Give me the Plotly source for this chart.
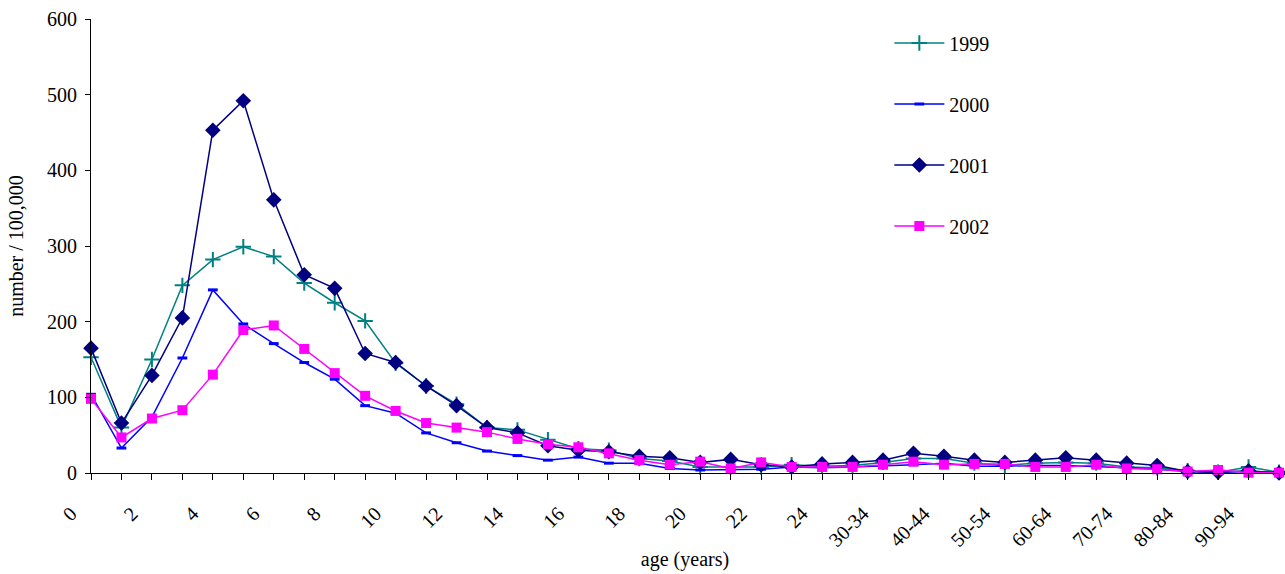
import plotly.graph_objects as go

ages = [str(i) for i in range(25)] + ["25-29", "30-34", "35-39", "40-44", "45-49", "50-54",
                                      "55-59", "60-64", "65-69", "70-74", "75-79", "80-84",
                                      "85-89", "90-94", "95+"]

y1999 = [153, 60, 150, 248, 282, 299, 286, 251, 225, 201, 145, 115, 91, 60, 57, 44, 32, 30, 19, 16,
         8, 8, 8, 11, 9, 10, 14, 19, 19, 13, 10, 13, 14, 13, 8, 7, 3, 1, 8, 1]
y2000 = [104, 33, 74, 152, 242, 197, 171, 146, 124, 89, 79, 53, 40, 29, 23, 17, 21, 13, 13, 6,
         4, 4, 5, 8, 7, 8, 9, 11, 13, 9, 9, 10, 10, 9, 7, 5, 2, 1, 2, 1]
y2001 = [165, 66, 129, 205, 453, 492, 361, 262, 244, 158, 146, 115, 89, 60, 53, 36, 30, 28, 22, 20,
         14, 18, 11, 8, 12, 14, 17, 26, 22, 17, 14, 17, 20, 17, 13, 10, 2, 1, 3, 0]
y2002 = [98, 47, 72, 83, 130, 189, 195, 164, 132, 102, 82, 66, 60, 54, 45, 38, 34, 26, 17, 11,
         15, 6, 14, 8, 8, 8, 11, 15, 11, 12, 12, 8, 8, 11, 6, 5, 2, 4, 0.5, 0.5]

tick_text = [a if i % 2 == 0 else "" for i, a in enumerate(ages)]

FONT = "Liberation Serif"
FS = 20

series = [
    ("1999", y1999, "#008080", dict(symbol="cross-thin", size=11, line=dict(width=2, color="#008080"))),
    ("2000", y2000, "#0000FF", dict(symbol="line-ew", size=7, line=dict(width=3, color="#0000FF"))),
    ("2001", y2001, "#000080", dict(symbol="diamond", size=12, color="#000080")),
    ("2002", y2002, "#FF00FF", dict(symbol="square", size=10, color="#FF00FF")),
]

fig = go.Figure()
for name, ys, col, mk in series:
    fig.add_trace(go.Scatter(
        x=ages, y=ys, name=name, mode="lines+markers",
        line=dict(color=col, width=1.5), marker=mk, cliponaxis=False,
        legendgroup=name,
    ))

fig.update_layout(
    width=1285, height=574,
    margin=dict(l=91, r=6, t=19, b=101),
    paper_bgcolor="white", plot_bgcolor="white",
    font=dict(family=FONT, size=FS, color="black"),
    showlegend=True,
    legend=dict(x=0.672, y=0.99, xanchor="left", yanchor="top",
                font=dict(family=FONT, size=FS), traceorder="grouped",
                tracegroupgap=32, bgcolor="rgba(0,0,0,0)", itemwidth=50),
    xaxis=dict(type="category", range=[0, 39], showline=True, linecolor="black", linewidth=1,
               ticks="outside", ticklen=6, tickcolor="black",
               tickmode="array", tickvals=ages, ticktext=tick_text, tickangle=-45,
               ticklabelshift=-20, ticklabelstandoff=14, automargin=False,
               tickfont=dict(family=FONT, size=FS), showgrid=False, zeroline=False,
               title=dict(text="age (years)", font=dict(family=FONT, size=FS), standoff=2)),
    yaxis=dict(range=[0, 600], dtick=100, showline=True, linecolor="black", linewidth=1,
               ticks="outside", ticklen=5, tickcolor="black", automargin=False,
               ticklabelstandoff=4,
               tickfont=dict(family=FONT, size=FS), showgrid=False, zeroline=False,
               title=dict(text="number / 100,000", font=dict(family=FONT, size=FS), standoff=18)),
)

fig.write_html("out.html")
